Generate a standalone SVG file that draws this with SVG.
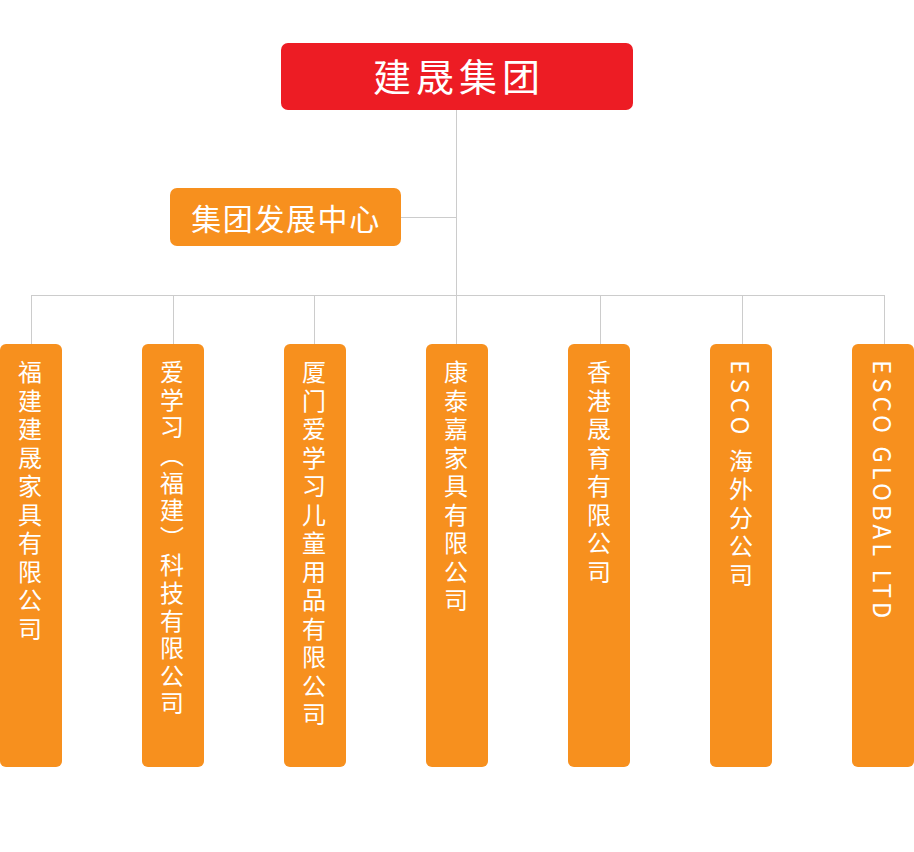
<svg xmlns="http://www.w3.org/2000/svg" width="914" height="852" viewBox="0 0 914 852">
<style>
.lbl{fill:#fff;font-family:"Noto Sans CJK SC","Noto Sans",sans-serif;}
.v{font-size:24px;writing-mode:vertical-rl;letter-spacing:4.5px;}
.box{fill:#F7901E;}
.conn line{stroke:#CCCCCC;stroke-width:1;}
</style>
<rect width="914" height="852" fill="#fff"/>
<g class="conn">
<line x1="456.5" y1="110" x2="456.5" y2="295"/>
<line x1="401" y1="217.5" x2="456.5" y2="217.5"/>
<line x1="31.5" y1="295.5" x2="884.5" y2="295.5"/>
<line x1="31.5" y1="295" x2="31.5" y2="344"/>
<line x1="173.5" y1="295" x2="173.5" y2="344"/>
<line x1="314.5" y1="295" x2="314.5" y2="344"/>
<line x1="456.5" y1="295" x2="456.5" y2="344"/>
<line x1="600.5" y1="295" x2="600.5" y2="344"/>
<line x1="742.5" y1="295" x2="742.5" y2="344"/>
<line x1="884.5" y1="295" x2="884.5" y2="344"/>
</g>
<g id="root">
<rect x="281" y="43" width="352" height="67" rx="7" fill="#ED1C24"/>
<text class="lbl" x="459" y="91" font-size="38" text-anchor="middle" letter-spacing="5">建晟集团</text>
</g>
<g id="center">
<rect x="170" y="188" width="231" height="58" rx="7" fill="#F7901E"/>
<text class="lbl" x="286" y="230" font-size="30" text-anchor="middle" letter-spacing="1.6">集团发展中心</text>
</g>
<g id="n1"><rect class="box" x="0" y="344" width="62" height="423" rx="6"/><text class="lbl v" x="30" y="360">福建建晟家具有限公司</text></g>
<g id="n2"><rect class="box" x="142" y="344" width="62" height="423" rx="6"/><text class="lbl v" x="172" y="360" style="letter-spacing:3.6px">爱学习（福建）科技有限公司</text></g>
<g id="n3"><rect class="box" x="284" y="344" width="62" height="423" rx="6"/><text class="lbl v" x="314" y="360">厦门爱学习儿童用品有限公司</text></g>
<g id="n4"><rect class="box" x="426" y="344" width="62" height="423" rx="6"/><text class="lbl v" x="456" y="360">康泰嘉家具有限公司</text></g>
<g id="n5"><rect class="box" x="568" y="344" width="62" height="423" rx="6"/><text class="lbl v" x="599" y="360">香港晟育有限公司</text></g>
<g id="n6"><rect class="box" x="710" y="344" width="62" height="423" rx="6"/><text class="lbl v" x="741" y="360">ESCO 海外分公司</text></g>
<g id="n7"><rect class="box" x="852" y="344" width="62" height="423" rx="6"/><text class="lbl v" x="883" y="360" style="letter-spacing:4px">ESCO GLOBAL LTD</text></g>
</svg>
